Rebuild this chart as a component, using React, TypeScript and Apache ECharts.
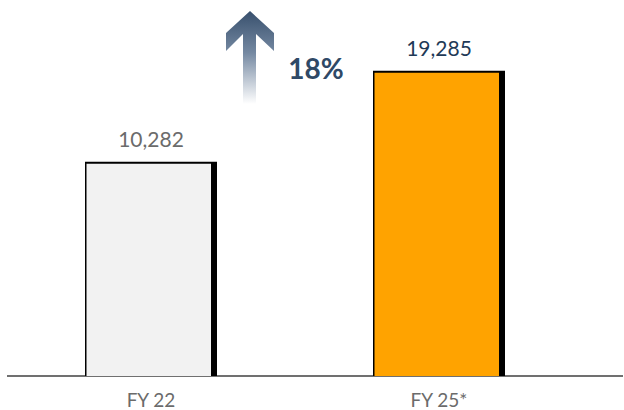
import React, { useEffect, useRef } from "react";
import * as echarts from "echarts";

const categories = ["FY 22", "FY 25*"];
const values = [10282, 19285];
const barColors = ["#f2f2f2", "#ffa300"];
const valueLabelColors = ["#6b6b6b", "#1f3a57"];
const growthLabel = "18%";

const fmt = (v: number) => v.toLocaleString("en-US");

export default function App() {
  const ref = useRef<HTMLDivElement>(null);
  useEffect(() => {
    if (!ref.current) return;
    const chart = echarts.init(ref.current, null, { renderer: "svg" });
    const option: any = {
      animation: false,
      backgroundColor: "#ffffff",
      grid: { left: 7, right: 41, top: 22, bottom: 34 },
      xAxis: {
        type: "category",
        data: categories,
        axisLine: { show: false },
        axisTick: { show: false },
        axisLabel: {
          color: "#6b6b6b",
          fontFamily: "Lato",
          fontSize: 19,
          margin: 14,
        },
      },
      yAxis: {
        type: "value",
        min: -10900,
        max: 24100,
        show: false,
        splitLine: { show: false },
      },
      series: [
        {
          type: "custom",
          data: values.map((v, i) => [i, v]),
          encode: { x: 0, y: 1 },
          renderItem: (params: any, api: any) => {
            const idx = api.value(0);
            const val = api.value(1);
            const pt = api.coord([idx, val]);
            const cx = pt[0];
            const yTop = pt[1];
            const bottom = params.coordSys.y + params.coordSys.height;
            const w = 132;
            const left = cx - w / 2;
            return {
              type: "group",
              children: [
                {
                  type: "rect",
                  shape: { x: left, y: yTop, width: w, height: bottom - yTop },
                  style: { fill: "#000000" },
                },
                {
                  type: "rect",
                  shape: { x: left + 1.5, y: yTop + 2, width: w - 7.5, height: bottom - yTop - 2 },
                  style: { fill: barColors[idx] },
                },
                {
                  type: "text",
                  style: {
                    x: cx,
                    y: yTop - 23,
                    text: fmt(val),
                    align: "center",
                    verticalAlign: "middle",
                    fontFamily: "Lato",
                    fontSize: 21,
                    fill: valueLabelColors[idx],
                  },
                },
              ],
            };
          },
        },
      ],
      graphic: [
        {
          type: "line",
          shape: { x1: 7, y1: 376, x2: 623, y2: 376 },
          style: { stroke: "#707070", lineWidth: 2 },
        },
        {
          type: "polygon",
          shape: {
            points: [
              [250, 11],
              [274, 33],
              [274, 51],
              [256, 34],
              [256, 104],
              [243, 104],
              [243, 34],
              [226, 51],
              [226, 33],
            ],
          },
          style: {
            fill: {
              type: "linear",
              x: 0,
              y: 0,
              x2: 0,
              y2: 1,
              colorStops: [
                { offset: 0, color: "#38506d" },
                { offset: 0.45, color: "#7589a2" },
                { offset: 1, color: "rgba(255,255,255,1)" },
              ],
            },
          },
        },
        {
          type: "text",
          x: 316,
          y: 68,
          style: {
            text: growthLabel,
            align: "center",
            verticalAlign: "middle",
            fontFamily: "Lato",
            fontWeight: "bold",
            fontSize: 28,
            fill: "#2f4966",
          },
        },
      ],
    };
    chart.setOption(option);
    return () => chart.dispose();
  }, []);
  return (
    <div
      ref={ref}
      style={{ position: "fixed", left: 0, top: 0, width: 624, height: 410 }}
    />
  );
}
